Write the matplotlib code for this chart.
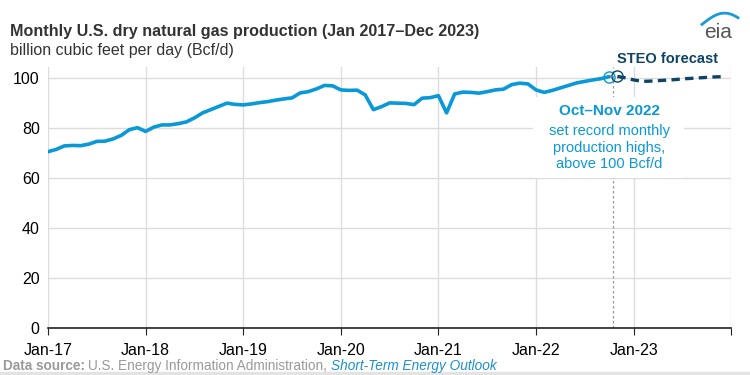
import matplotlib
matplotlib.use('Agg')
import matplotlib.pyplot as plt
import numpy as np

plt.rcParams['font.family'] = ['Liberation Sans', 'DejaVu Sans']

# monthly dry gas production, Bcf/d, Jan 2017 - Oct 2022 (history)
history = [70.5, 71.4, 72.8, 73.0, 72.9, 73.5, 74.6, 74.7, 75.6, 77.0, 79.3, 80.1,
           78.6, 80.3, 81.2, 81.2, 81.7, 82.4, 84.0, 86.0, 87.3, 88.6, 89.9, 89.4,
           89.2, 89.6, 90.1, 90.5, 91.1, 91.6, 92.0, 94.0, 94.5, 95.6, 97.0, 96.8,
           95.2, 95.0, 95.1, 93.2, 87.3, 88.5, 90.0, 89.9, 89.8, 89.3, 91.9, 92.1,
           92.9, 86.0, 93.6, 94.3, 94.2, 93.9, 94.5, 95.2, 95.5, 97.3, 97.9, 97.6,
           95.2, 94.2, 95.0, 96.0, 97.0, 98.0, 98.6, 99.2, 99.7, 100.5]
# STEO forecast, Nov 2022 - Dec 2023
forecast = [100.6, 100.0, 99.2, 98.6, 98.7, 98.9, 99.1, 99.3, 99.6, 99.8,
            100.0, 100.2, 100.4, 100.5]

tick_labels = ['Jan-17', 'Jan-18', 'Jan-19', 'Jan-20', 'Jan-21', 'Jan-22', 'Jan-23', '']
y_ticks = [0, 20, 40, 60, 80, 100]

blue = '#0a99d8'
navy = '#0d4466'
grid = '#dcdcdc'

x_hist = np.arange(len(history))
x_fc = np.arange(len(history), len(history) + len(forecast))
oct22 = len(history) - 1

fig = plt.figure(figsize=(7.5, 3.75), dpi=100)
ax = fig.add_axes([0.064, 0.1253, 0.911, 0.697])

ax.set_xlim(0, 84)
ax.set_ylim(0, 104.5)
ax.set_xticks(np.arange(0, 85, 12))
ax.set_xticklabels(tick_labels)
ax.set_yticks(y_ticks)
ax.grid(True, color=grid, linewidth=1)
ax.set_axisbelow(True)
for s in ['left', 'right', 'top']:
    ax.spines[s].set_visible(False)
ax.spines['bottom'].set_color('#222222')
ax.spines['bottom'].set_linewidth(1.2)
ax.tick_params(axis='x', length=5, color='#222222', labelsize=11.5, pad=6)
ax.tick_params(axis='y', length=0, labelsize=11.5, pad=6)

# forecast start marker line
ax.axvline(oct22 + 0.5, color='#999999', linestyle=(0, (2, 2)), linewidth=0.9, zorder=1)

ax.plot(x_hist, history, color=blue, linewidth=2.6, solid_capstyle='round', zorder=3)
ax.plot(x_fc, forecast, color=navy, linewidth=2.4, linestyle=(0, (2.5, 1.6)), zorder=3)
ax.plot([x_hist[-1]], [history[-1]], 'o', ms=8, mfc='none', mec=blue, mew=1, zorder=4)
ax.plot([x_fc[0]], [forecast[0]], 'o', ms=8, mfc='none', mec=navy, mew=1, zorder=4)

ax.text(oct22 + 0.9, 107.5, 'STEO forecast', color=navy, fontsize=10.5,
        fontweight='bold', ha='left', va='center', clip_on=False)

# annotation box
ax.add_patch(plt.Rectangle((59.6, 60.0), 18.6, 32.2, facecolor='white',
                           edgecolor='none', zorder=2))
ax.text(oct22, 86.6, 'Oct\u2013Nov 2022', color=blue, fontsize=11, fontweight='bold',
        ha='center', va='center', zorder=5)
ax.text(oct22, 78.6, 'set record monthly', color=blue, fontsize=10.5,
        ha='center', va='center', zorder=5)
ax.text(oct22, 71.8, 'production highs,', color=blue, fontsize=10.5,
        ha='center', va='center', zorder=5)
ax.text(oct22, 65.6, 'above 100 Bcf/d', color=blue, fontsize=10.5,
        ha='center', va='center', zorder=5)

fig.text(0.013, 0.915, 'Monthly U.S. dry natural gas production (Jan 2017\u2013Dec 2023)',
         fontsize=11.6, fontweight='bold', color='#333333', va='center')
fig.text(0.013, 0.865, 'billion cubic feet per day (Bcf/d)', fontsize=11.5,
         color='#333333', va='center')

# source line
t1 = fig.text(0.004, 0.025, 'Data source:', fontsize=9.8, fontweight='bold',
              color='#9a9a9a', va='center')
fig.canvas.draw()
r = fig.canvas.get_renderer()
bb = t1.get_window_extent(r)
x2 = bb.x1 / fig.bbox.width + 0.004
t2 = fig.text(x2, 0.025, 'U.S. Energy Information Administration,', fontsize=9.8,
              color='#9a9a9a', va='center')
bb2 = t2.get_window_extent(r)
fig.text(bb2.x1 / fig.bbox.width + 0.005, 0.025, 'Short-Term Energy Outlook',
         fontsize=9.8, style='italic', color='#1a8fd0', va='center')
fig.patches.append(plt.Rectangle((0, 0), 1, 0.008, transform=fig.transFigure,
                                 color='#e3e3e3', zorder=0))

# eia logo
fig.text(0.958, 0.912, 'eia', fontsize=15, color='#555555', ha='center', va='center')
arc_t = np.linspace(0, 1, 30)
fig.add_artist(plt.Line2D(0.936 + 0.048 * arc_t, 0.935 + 0.03 * np.sin(arc_t * np.pi * 0.8),
                          transform=fig.transFigure, color='#1a9bd7', linewidth=2.0))

fig.savefig('out.png', dpi=100)
